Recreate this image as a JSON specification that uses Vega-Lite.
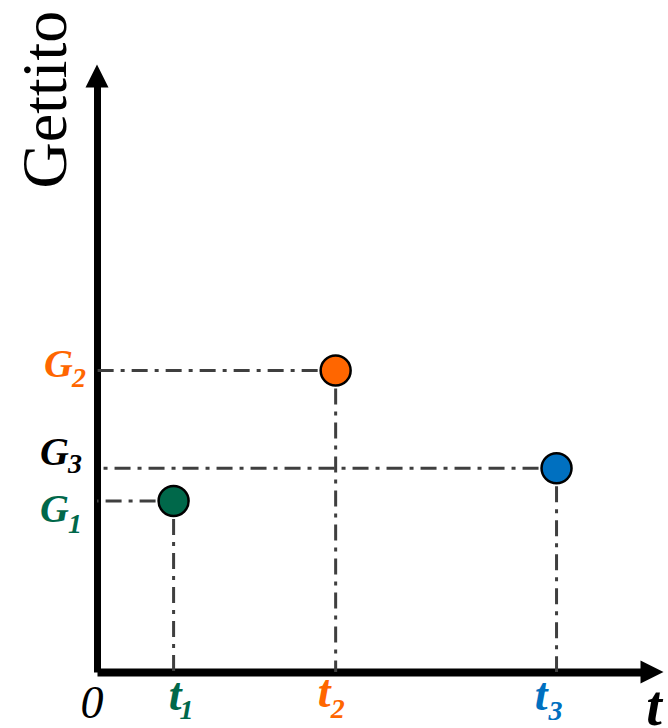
{
  "$schema": "https://vega.github.io/schema/vega-lite/v6.json",
  "width": 555,
  "height": 596,
  "autosize": "none",
  "padding": {"left": 97, "top": 76, "right": 16, "bottom": 56},
  "background": "white",
  "config": {
    "view": {"stroke": null},
    "axis": {"labels": false, "ticks": false, "grid": false, "domainColor": "black", "domainCap": "butt", "zindex": 1},
    "axisX": {"domainWidth": 8},
    "axisY": {
      "domainWidth": 7,
      "titleFont": "Liberation Serif", "titleFontSize": 64, "titleFontWeight": "normal",
      "titleColor": "black", "titleAngle": -90, "titleX": -32, "titleY": 23,
      "titleAlign": "center", "titleBaseline": "alphabetic"
    }
  },
  "data": {
    "values": [
      {"id": "1", "t": 1.38, "G": 2.87},
      {"id": "2", "t": 4.3, "G": 5.06},
      {"id": "3", "t": 8.28, "G": 3.42}
    ]
  },
  "layer": [
    {
      "mark": {"type": "rule", "color": "#3f3f3f", "strokeWidth": 3, "strokeDash": [16, 7, 4, 7], "strokeDashOffset": 16},
      "encoding": {
        "x": {"field": "t", "type": "quantitative", "scale": {"domain": [0, 10], "nice": false}, "title": null},
        "x2": {"datum": 0},
        "y": {"field": "G", "type": "quantitative", "scale": {"domain": [0, 10], "nice": false}, "title": "Gettito"}
      }
    },
    {
      "mark": {"type": "rule", "color": "#3f3f3f", "strokeWidth": 3, "strokeDash": [16, 7, 4, 7], "strokeDashOffset": 16},
      "encoding": {
        "x": {"field": "t", "type": "quantitative", "scale": {"domain": [0, 10], "nice": false}, "title": null},
        "y": {"field": "G", "type": "quantitative", "scale": {"domain": [0, 10], "nice": false}, "title": "Gettito"},
        "y2": {"datum": 0}
      }
    },
    {
      "data": {"values": [{}]},
      "mark": {"type": "point", "shape": "M0,-1L1,1L-1,1Z", "filled": true, "color": "black", "opacity": 1, "size": 529, "strokeWidth": 0},
      "encoding": {
        "x": {"datum": 0, "type": "quantitative", "scale": {"domain": [0, 10], "nice": false}, "title": null},
        "y": {"datum": 10, "type": "quantitative", "scale": {"domain": [0, 10], "nice": false}, "title": "Gettito"}
      }
    },
    {
      "data": {"values": [{}]},
      "mark": {"type": "point", "shape": "M1,0L-1,-1L-1,1Z", "filled": true, "color": "black", "opacity": 1, "size": 529, "strokeWidth": 0},
      "encoding": {
        "x": {"datum": 10, "type": "quantitative", "scale": {"domain": [0, 10], "nice": false}, "title": null},
        "y": {"datum": 0, "type": "quantitative", "scale": {"domain": [0, 10], "nice": false}, "title": "Gettito"}
      }
    },
    {
      "mark": {"type": "circle", "size": 900, "opacity": 1, "stroke": "black", "strokeWidth": 2.5},
      "encoding": {
        "x": {"field": "t", "type": "quantitative", "scale": {"domain": [0, 10], "nice": false}, "title": null},
        "y": {"field": "G", "type": "quantitative", "scale": {"domain": [0, 10], "nice": false}, "title": "Gettito"},
        "color": {"field": "id", "type": "nominal", "scale": {"domain": ["1", "2", "3"], "range": ["#00684a", "#ff6600", "#0070c0"]}, "legend": null}
      }
    },
    {
      "transform": [{"filter": "datum.id === '1'"}],
      "mark": {"type": "text", "font": "Liberation Serif", "fontStyle": "italic", "fontWeight": "bold", "fontSize": 40, "align": "right", "baseline": "alphabetic", "dx": -28, "dy": 21},
      "encoding": {
        "x": {"datum": 0, "type": "quantitative", "scale": {"domain": [0, 10], "nice": false}, "title": null},
        "y": {"field": "G", "type": "quantitative", "scale": {"domain": [0, 10], "nice": false}, "title": "Gettito"},
        "text": {"value": "G"},
        "color": {"field": "id", "type": "nominal", "scale": {"domain": ["1", "2", "3"], "range": ["#00684a", "#ff6600", "#0070c0"]}, "legend": null}
      }
    },
    {
      "transform": [{"filter": "datum.id === '1'"}],
      "mark": {"type": "text", "font": "Liberation Serif", "fontStyle": "italic", "fontWeight": "bold", "fontSize": 28, "align": "left", "baseline": "alphabetic", "dx": -29, "dy": 32},
      "encoding": {
        "x": {"datum": 0, "type": "quantitative", "scale": {"domain": [0, 10], "nice": false}, "title": null},
        "y": {"field": "G", "type": "quantitative", "scale": {"domain": [0, 10], "nice": false}, "title": "Gettito"},
        "text": {"field": "id"},
        "color": {"field": "id", "type": "nominal", "scale": {"domain": ["1", "2", "3"], "range": ["#00684a", "#ff6600", "#0070c0"]}, "legend": null}
      }
    },
    {
      "transform": [{"filter": "datum.id === '2'"}],
      "mark": {"type": "text", "font": "Liberation Serif", "fontStyle": "italic", "fontWeight": "bold", "fontSize": 40, "align": "right", "baseline": "alphabetic", "dx": -24, "dy": 7},
      "encoding": {
        "x": {"datum": 0, "type": "quantitative", "scale": {"domain": [0, 10], "nice": false}, "title": null},
        "y": {"field": "G", "type": "quantitative", "scale": {"domain": [0, 10], "nice": false}, "title": "Gettito"},
        "text": {"value": "G"},
        "color": {"field": "id", "type": "nominal", "scale": {"domain": ["1", "2", "3"], "range": ["#00684a", "#ff6600", "#0070c0"]}, "legend": null}
      }
    },
    {
      "transform": [{"filter": "datum.id === '2'"}],
      "mark": {"type": "text", "font": "Liberation Serif", "fontStyle": "italic", "fontWeight": "bold", "fontSize": 28, "align": "left", "baseline": "alphabetic", "dx": -25, "dy": 17},
      "encoding": {
        "x": {"datum": 0, "type": "quantitative", "scale": {"domain": [0, 10], "nice": false}, "title": null},
        "y": {"field": "G", "type": "quantitative", "scale": {"domain": [0, 10], "nice": false}, "title": "Gettito"},
        "text": {"field": "id"},
        "color": {"field": "id", "type": "nominal", "scale": {"domain": ["1", "2", "3"], "range": ["#00684a", "#ff6600", "#0070c0"]}, "legend": null}
      }
    },
    {
      "transform": [{"filter": "datum.id === '3'"}],
      "mark": {"type": "text", "font": "Liberation Serif", "fontStyle": "italic", "fontWeight": "bold", "fontSize": 40, "align": "right", "baseline": "alphabetic", "dx": -28, "dy": -3, "color": "black"},
      "encoding": {
        "x": {"datum": 0, "type": "quantitative", "scale": {"domain": [0, 10], "nice": false}, "title": null},
        "y": {"field": "G", "type": "quantitative", "scale": {"domain": [0, 10], "nice": false}, "title": "Gettito"},
        "text": {"value": "G"}
      }
    },
    {
      "transform": [{"filter": "datum.id === '3'"}],
      "mark": {"type": "text", "font": "Liberation Serif", "fontStyle": "italic", "fontWeight": "bold", "fontSize": 28, "align": "left", "baseline": "alphabetic", "dx": -29, "dy": 5, "color": "black"},
      "encoding": {
        "x": {"datum": 0, "type": "quantitative", "scale": {"domain": [0, 10], "nice": false}, "title": null},
        "y": {"field": "G", "type": "quantitative", "scale": {"domain": [0, 10], "nice": false}, "title": "Gettito"},
        "text": {"field": "id"}
      }
    },
    {
      "transform": [{"filter": "datum.id === '1'"}],
      "mark": {"type": "text", "font": "Liberation Serif", "fontStyle": "italic", "fontWeight": "bold", "fontSize": 46, "align": "right", "baseline": "alphabetic", "dx": 8, "dy": 38},
      "encoding": {
        "x": {"field": "t", "type": "quantitative", "scale": {"domain": [0, 10], "nice": false}, "title": null},
        "y": {"datum": 0, "type": "quantitative", "scale": {"domain": [0, 10], "nice": false}, "title": "Gettito"},
        "text": {"value": "t"},
        "color": {"field": "id", "type": "nominal", "scale": {"domain": ["1", "2", "3"], "range": ["#00684a", "#ff6600", "#0070c0"]}, "legend": null}
      }
    },
    {
      "transform": [{"filter": "datum.id === '1'"}],
      "mark": {"type": "text", "font": "Liberation Serif", "fontStyle": "italic", "fontWeight": "bold", "fontSize": 28, "align": "left", "baseline": "alphabetic", "dx": 6, "dy": 47},
      "encoding": {
        "x": {"field": "t", "type": "quantitative", "scale": {"domain": [0, 10], "nice": false}, "title": null},
        "y": {"datum": 0, "type": "quantitative", "scale": {"domain": [0, 10], "nice": false}, "title": "Gettito"},
        "text": {"field": "id"},
        "color": {"field": "id", "type": "nominal", "scale": {"domain": ["1", "2", "3"], "range": ["#00684a", "#ff6600", "#0070c0"]}, "legend": null}
      }
    },
    {
      "transform": [{"filter": "datum.id === '2'"}],
      "mark": {"type": "text", "font": "Liberation Serif", "fontStyle": "italic", "fontWeight": "bold", "fontSize": 46, "align": "right", "baseline": "alphabetic", "dx": -5, "dy": 35},
      "encoding": {
        "x": {"field": "t", "type": "quantitative", "scale": {"domain": [0, 10], "nice": false}, "title": null},
        "y": {"datum": 0, "type": "quantitative", "scale": {"domain": [0, 10], "nice": false}, "title": "Gettito"},
        "text": {"value": "t"},
        "color": {"field": "id", "type": "nominal", "scale": {"domain": ["1", "2", "3"], "range": ["#00684a", "#ff6600", "#0070c0"]}, "legend": null}
      }
    },
    {
      "transform": [{"filter": "datum.id === '2'"}],
      "mark": {"type": "text", "font": "Liberation Serif", "fontStyle": "italic", "fontWeight": "bold", "fontSize": 28, "align": "left", "baseline": "alphabetic", "dx": -5, "dy": 46},
      "encoding": {
        "x": {"field": "t", "type": "quantitative", "scale": {"domain": [0, 10], "nice": false}, "title": null},
        "y": {"datum": 0, "type": "quantitative", "scale": {"domain": [0, 10], "nice": false}, "title": "Gettito"},
        "text": {"field": "id"},
        "color": {"field": "id", "type": "nominal", "scale": {"domain": ["1", "2", "3"], "range": ["#00684a", "#ff6600", "#0070c0"]}, "legend": null}
      }
    },
    {
      "transform": [{"filter": "datum.id === '3'"}],
      "mark": {"type": "text", "font": "Liberation Serif", "fontStyle": "italic", "fontWeight": "bold", "fontSize": 46, "align": "right", "baseline": "alphabetic", "dx": -9, "dy": 38},
      "encoding": {
        "x": {"field": "t", "type": "quantitative", "scale": {"domain": [0, 10], "nice": false}, "title": null},
        "y": {"datum": 0, "type": "quantitative", "scale": {"domain": [0, 10], "nice": false}, "title": "Gettito"},
        "text": {"value": "t"},
        "color": {"field": "id", "type": "nominal", "scale": {"domain": ["1", "2", "3"], "range": ["#00684a", "#ff6600", "#0070c0"]}, "legend": null}
      }
    },
    {
      "transform": [{"filter": "datum.id === '3'"}],
      "mark": {"type": "text", "font": "Liberation Serif", "fontStyle": "italic", "fontWeight": "bold", "fontSize": 28, "align": "left", "baseline": "alphabetic", "dx": -8, "dy": 48},
      "encoding": {
        "x": {"field": "t", "type": "quantitative", "scale": {"domain": [0, 10], "nice": false}, "title": null},
        "y": {"datum": 0, "type": "quantitative", "scale": {"domain": [0, 10], "nice": false}, "title": "Gettito"},
        "text": {"field": "id"},
        "color": {"field": "id", "type": "nominal", "scale": {"domain": ["1", "2", "3"], "range": ["#00684a", "#ff6600", "#0070c0"]}, "legend": null}
      }
    },
    {
      "data": {"values": [{}]},
      "mark": {"type": "text", "font": "Liberation Serif", "fontStyle": "italic", "fontWeight": "normal", "fontSize": 46, "align": "center", "baseline": "alphabetic", "dx": -5, "dy": 46, "color": "black"},
      "encoding": {
        "x": {"datum": 0, "type": "quantitative", "scale": {"domain": [0, 10], "nice": false}, "title": null},
        "y": {"datum": 0, "type": "quantitative", "scale": {"domain": [0, 10], "nice": false}, "title": "Gettito"},
        "text": {"value": "0"}
      }
    },
    {
      "data": {"values": [{}]},
      "mark": {"type": "text", "font": "Liberation Serif", "fontStyle": "italic", "fontWeight": "bold", "fontSize": 56, "align": "center", "baseline": "alphabetic", "dx": 2, "dy": 53, "color": "black"},
      "encoding": {
        "x": {"datum": 10, "type": "quantitative", "scale": {"domain": [0, 10], "nice": false}, "title": null},
        "y": {"datum": 0, "type": "quantitative", "scale": {"domain": [0, 10], "nice": false}, "title": "Gettito"},
        "text": {"value": "t"}
      }
    }
  ]
}
